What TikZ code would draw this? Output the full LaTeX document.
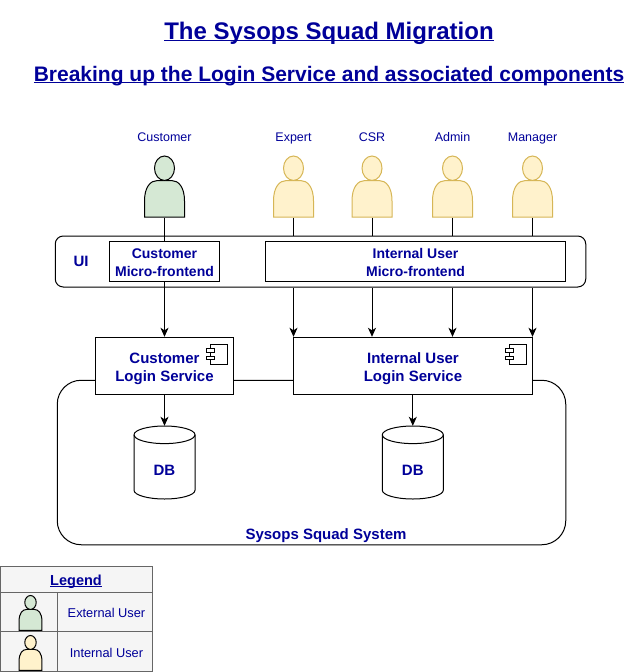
\documentclass[tikz,border=0pt]{standalone}
\usepackage{fontspec}
\setmainfont{Liberation Sans}
\usetikzlibrary{arrows.meta}
\definecolor{labelblue}{HTML}{000099}
\definecolor{extfill}{HTML}{D5E8D4}
\definecolor{intfill}{HTML}{FFF2CC}
\definecolor{intline}{HTML}{D6B656}
\definecolor{legendfill}{HTML}{F5F5F5}
\definecolor{legendline}{HTML}{666666}
\newcommand{\ulined}[1]{\underline{\smash{#1}}}
\tikzset{
    boldtext/.style={text=labelblue,font=\fontsize{14}{18}\selectfont\bfseries,align=center,inner sep=0pt},
    logintext/.style={text=labelblue,font=\fontsize{15}{18}\selectfont\bfseries,align=center,inner sep=0pt},
    baselabel/.style={text=labelblue,anchor=base,inner sep=0pt},
    smalltext/.style={baselabel,font=\fontsize{12.5}{14}\selectfont},
    whitebox/.style={draw,fill=white,line width=1pt,inner sep=0pt},
    roundbox/.style={whitebox,rounded corners=#1},
    legendcell/.style={draw=legendline,fill=legendfill,line width=1pt,inner sep=0pt},
    link/.style={line width=1pt},
    flow/.style={line width=1pt,-{Stealth[length=9pt,width=8pt,inset=2.5pt]}},
    pics/person/.style={code={
        \node[inner sep=0pt,minimum width=40pt,minimum height=61pt,transform shape] (-box) at (0,30.5) {};
        \path[pic actions] (-20,61) -- (-20,45) .. controls (-20,31) and (-14,24.5) .. (-7,24.5)
            -- (7,24.5) .. controls (14,24.5) and (20,31) .. (20,45) -- (20,61) -- cycle;
        \path[pic actions] (0,12.2) ellipse (10 and 12.2);
    }},
    pics/component/.style={code={
        \draw[line width=1pt,fill=white] (4,0) rectangle (21,20);
        \draw[line width=1pt,fill=white] (0,4.5) rectangle (8,8);
        \draw[line width=1pt,fill=white] (0,12) rectangle (8,15.5);
    }},
    pics/dbstore/.style={code={
        \node[inner sep=0pt,minimum width=61pt,minimum height=73pt] (-box) at (0,36.5) {};
        \draw[line width=1pt,fill=white] (-30.5,8.8) -- (-30.5,64.2) arc[start angle=180,end angle=360,x radius=30.5,y radius=-8.8]
            -- (30.5,8.8) arc[start angle=0,end angle=180,x radius=30.5,y radius=-8.8] -- cycle;
        \draw[line width=1pt] (-30.5,8.8) arc[start angle=180,end angle=360,x radius=30.5,y radius=-8.8];
    }}
}
\begin{document}
\begin{tikzpicture}[x=1pt,y=-1pt]
    \useasboundingbox (0,0) rectangle (640,672);

    % Titles
    \node[baselabel,font=\fontsize{24}{28}\selectfont\bfseries] (title) at (329,39) {\ulined{The Sysops Squad Migration}};
    \node[baselabel,font=\fontsize{21}{24}\selectfont\bfseries] (subtitle) at (329,81) {\ulined{Breaking up the Login Service and associated components}};

    % System
    \node[roundbox=24pt,minimum width=508.5pt,minimum height=164.5pt] (system) at (311.5,462.5) {};
    \node[logintext,anchor=base] (systemlabel) at (326,539) {Sysops Squad System};

    % UI
    \node[roundbox=8pt,minimum width=530.5pt,minimum height=51pt] (ui) at (320.5,261.5) {};
    \node[logintext,anchor=base] (uilabel) at (81,266) {UI};
    \node[whitebox,minimum width=110pt,minimum height=40pt] (custfront) at (164.5,261) {};
    \node[boldtext] (custfrontlabel) at (164.5,262.6) {Customer\\Micro-frontend};
    \node[whitebox,minimum width=300pt,minimum height=40pt] (intfront) at (415.5,261) {};
    \node[boldtext] (intfrontlabel) at (415.5,262.6) {Internal User\\Micro-frontend};

    % Login services
    \node[whitebox,minimum width=138pt,minimum height=57pt] (custlogin) at (164.5,365.8) {};
    \node[logintext] (custloginlabel) at (164.5,369) {Customer\\Login Service};
    \node[whitebox,minimum width=239pt,minimum height=57pt] (intlogin) at (412.8,365.8) {};
    \node[logintext] (intloginlabel) at (413,369) {Internal User\\Login Service};
    \pic at (206,344) {component};
    \pic at (505,344) {component};

    % Databases
    \pic (custdb) at (164.5,426) {dbstore};
    \node[logintext,anchor=base] (custdblabel) at (164.5,475) {DB};
    \pic (intdb) at (412.8,426) {dbstore};
    \node[logintext,anchor=base] (intdblabel) at (412.8,475) {DB};
    \draw[flow] (custlogin.south) -- (custdb-box.north);
    \draw[flow] (intlogin.south) -- (intdb-box.north);

    % Users
    \pic[draw=black,fill=extfill,line width=1pt] (customer) at (164.5,156) {person};
    \node[smalltext] (customerlabel) at (164.5,141) {Customer};
    \draw[link] (customer-box.south) -- (custfront.north);
    \draw[flow] (custfront.south) -- (custlogin.north);
    \foreach \who/\lab/\px in {expert/Expert/293.5,csr/CSR/372,admin/Admin/452.5,manager/Manager/532.5} {
        \pic[draw=intline,fill=intfill,line width=1pt] (\who) at (\px,156) {person};
        \node[smalltext] (\who label) at (\px,141) {\lab};
        \draw[link] (\who-box.south) -- (\who-box.south |- ui.north);
        \draw[flow] (\who-box.south |- ui.south) -- (\who-box.south |- intlogin.north);
    }

    % Legend
    \node[legendcell,minimum width=152.5pt,minimum height=26pt] (legendhead) at (76.25,579) {};
    \node[baselabel,font=\fontsize{14.5}{18}\selectfont\bfseries] (legendtitle) at (76,585) {\ulined{Legend}};
    \node[legendcell,minimum width=57pt,minimum height=39pt] (extcell) at (28.5,611.5) {};
    \node[legendcell,minimum width=95.5pt,minimum height=39pt] (extback) at (104.75,611.5) {};
    \node[baselabel,font=\fontsize{12.8}{14}\selectfont] (exttext) at (106.5,617) {External User};
    \node[legendcell,minimum width=57pt,minimum height=40pt] (intcell) at (28.5,651) {};
    \node[legendcell,minimum width=95.5pt,minimum height=40pt] (intback) at (104.75,651) {};
    \node[baselabel,font=\fontsize{12.8}{14}\selectfont] (inttext) at (106.5,657) {Internal User};
    \pic[draw=black,fill=extfill,line width=1pt,scale=0.57] (legendext) at (30.5,595.5) {person};
    \pic[draw=black,fill=intfill,line width=1pt,scale=0.57] (legendint) at (30.5,635.5) {person};
\end{tikzpicture}
\end{document}
